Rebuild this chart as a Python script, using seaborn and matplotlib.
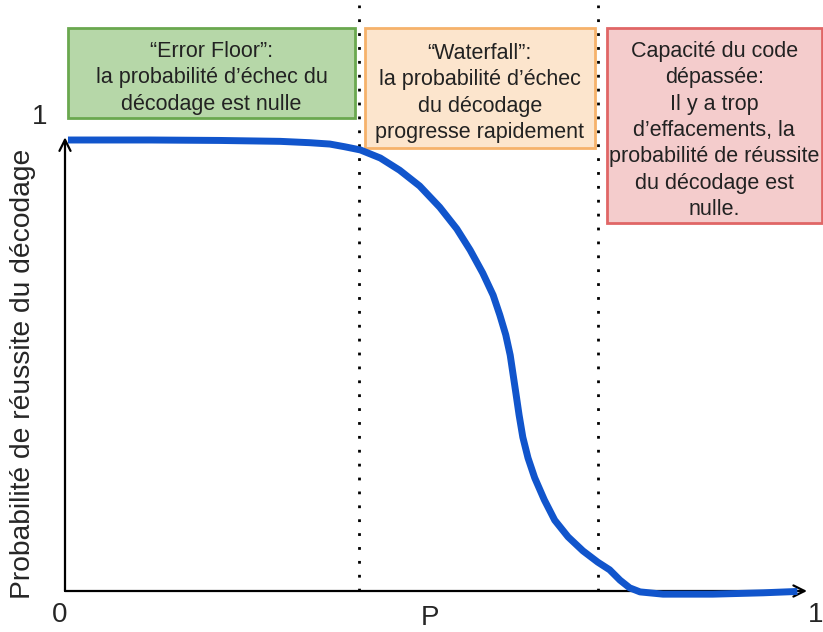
import matplotlib
matplotlib.use('Agg')
import matplotlib.pyplot as plt
import seaborn as sns
import pandas as pd
from matplotlib.patches import Rectangle

# Curve: P (erasure probability) vs decoding success probability
p_values = [0.004, 0.115, 0.209, 0.290, 0.330, 0.357, 0.377, 0.398, 0.425, 0.451,
            0.478, 0.505, 0.528, 0.546, 0.563, 0.577, 0.586, 0.594, 0.600, 0.604,
            0.608, 0.612, 0.617, 0.624, 0.633, 0.646, 0.660, 0.678, 0.698, 0.718,
            0.734, 0.748, 0.761, 0.775, 0.806, 0.873, 0.941, 0.987]
success_prob = [1.000, 1.000, 0.999, 0.997, 0.994, 0.991, 0.985, 0.978, 0.960, 0.933,
                0.898, 0.851, 0.803, 0.756, 0.705, 0.656, 0.612, 0.568, 0.523, 0.479,
                0.435, 0.390, 0.341, 0.295, 0.251, 0.202, 0.157, 0.120, 0.089, 0.064,
                0.047, 0.024, 0.007, -0.002, -0.007, -0.007, -0.004, -0.001]

region_limits = [0.396, 0.718]  # dotted separators
region_texts = [
    "\u201cError Floor\u201d:\nla probabilité d\u2019échec du\ndécodage est nulle",
    "\u201cWaterfall\u201d:\nla probabilité d\u2019échec\ndu décodage\nprogresse rapidement",
    "Capacité du code\ndépassée:\nIl y a trop\nd\u2019effacements, la\nprobabilité de réussite\ndu décodage est\nnulle.",
]
region_fill = ['#b6d7a8', '#fce5cd', '#f4cccc']
region_edge = ['#6aa84f', '#f6b26b', '#e06666']

df = pd.DataFrame({'P': p_values, 'succes': success_prob})

sns.set_style('white')
plt.rcParams['font.family'] = ['Liberation Sans', 'DejaVu Sans']

fig = plt.figure(figsize=(8.23, 6.32), dpi=100)
ax = fig.add_axes([65 / 823, 41 / 632, 742 / 823, 451 / 632])
ax.set_xlim(0, 1)
ax.set_ylim(0, 1)
ax.axis('off')

# curve
sns.lineplot(data=df, x='P', y='succes', ax=ax, color='#1155cc', linewidth=5,
             sort=False, estimator=None, solid_capstyle='butt', solid_joinstyle='round',
             clip_on=False, zorder=4)

# axes arrows
ax.annotate('', xy=(0, 1.006), xytext=(0, 0), annotation_clip=False,
            arrowprops=dict(arrowstyle='->', color='black', lw=1.6, shrinkA=0, shrinkB=0,
                            mutation_scale=20))
ax.annotate('', xy=(1.0, 0), xytext=(0, 0), annotation_clip=False,
            arrowprops=dict(arrowstyle='->', color='black', lw=1.6, shrinkA=0, shrinkB=0,
                            mutation_scale=20))

# dotted separators
for xv in region_limits:
    ax.plot([xv, xv], [0, 1.30], color='black', linestyle=(0, (1, 4)), linewidth=2,
            clip_on=False, zorder=1)

# boxes
boxes = [(0.004, 1.049, 0.387, 0.199), (0.404, 0.982, 0.310, 0.266), (0.730, 0.816, 0.290, 0.432)]
for (x0, y0, w, h), txt, fc, ec in zip(boxes, region_texts, region_fill, region_edge):
    ax.add_patch(Rectangle((x0, y0), w, h, facecolor=fc, edgecolor=ec, linewidth=2,
                           clip_on=False, zorder=2))
    ax.text(x0 + w / 2, y0 + h / 2 - 0.011, txt, ha='center', va='center', fontsize=15.5,
            linespacing=1.34, color='#222222', zorder=3, clip_on=False)

# axis labels
ax.text(-0.007, -0.053, '0', ha='center', va='center', fontsize=20)
ax.text(1.011, -0.053, '1', ha='center', va='center', fontsize=20)
ax.text(0.492, -0.06, 'P', ha='center', va='center', fontsize=20)
ax.text(-0.034, 1.052, '1', ha='center', va='center', fontsize=20)
ax.text(-0.057, 0.481, 'Probabilité de réussite du décodage', ha='center', va='center',
        rotation=90, fontsize=20.3)

plt.savefig('out.png', dpi=100)
